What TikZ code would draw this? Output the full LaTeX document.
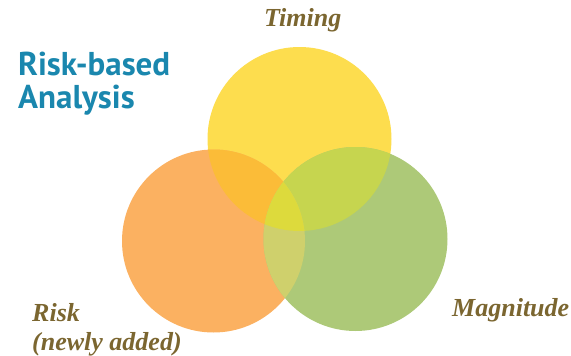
\documentclass[tikz,border=0pt]{standalone}
\usepackage{fontspec}
\setmainfont{Liberation Serif}
\newfontfamily\titlefont{PT Sans}
\definecolor{circyellow}{HTML}{FDDD4E}
\definecolor{circorange}{HTML}{FBB161}
\definecolor{circgreen}{HTML}{ADC978}
\definecolor{mixyo}{HTML}{FBBC38}
\definecolor{mixyg}{HTML}{C6D54F}
\definecolor{mixog}{HTML}{CFD06C}
\definecolor{mixall}{HTML}{DDDA3C}
\definecolor{labelbrown}{HTML}{7B6630}
\definecolor{titleblue}{HTML}{1A87AE}
\tikzset{label/.style={anchor=base west, inner sep=0pt, text=labelbrown,
    font=\fontsize{26}{29}\selectfont\bfseries\itshape, align=left},
  title/.style={anchor=base west, inner sep=0pt, text=titleblue,
    font=\fontsize{33}{33}\selectfont\titlefont\bfseries, align=left}}

\begin{document}
\begin{tikzpicture}[x=1pt, y=-1pt]
	\useasboundingbox (0,0) rectangle (571,356);
	
		\coordinate (timing) at (299.5,139);
		\coordinate (risk) at (213.5,241);
		\coordinate (magnitude) at (355.5,239);
	
		\fill [circyellow] (timing) circle (92);
		\fill [circorange] (risk) circle (91.5);
		\fill [circgreen] (magnitude) circle (92);
	
		\begin{scope}
			\clip (timing) circle (92);
			\fill [mixyo] (risk) circle (91.5);
			\fill [mixyg] (magnitude) circle (92);
		\end{scope}
		\begin{scope}
			\clip (risk) circle (91.5);
			\fill [mixog] (magnitude) circle (92);
			\clip (magnitude) circle (92);
			\fill [mixall] (timing) circle (92);
		\end{scope}
	
		\node [title] (analysis) at (18,108) {Risk-based\\Analysis};
	
		\node [label] (timinglabel) at (264,27) {Timing};
		\node [label] (risklabel) at (32,350) {Risk\\(newly added)};
		\node [label] (magnitudelabel) at (452,316) {Magnitude};
	\end{tikzpicture}
\end{document}
